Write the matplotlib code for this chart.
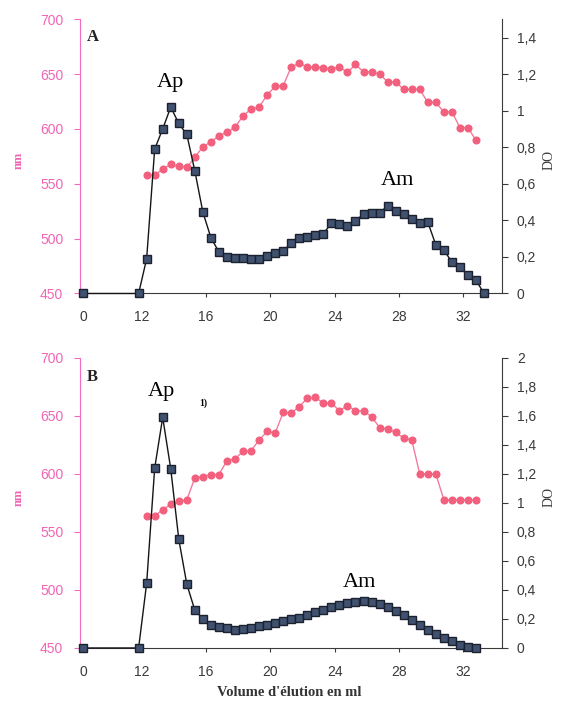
import matplotlib
matplotlib.use("Agg")
import matplotlib.pyplot as plt

# elution volume (ml) and readings, panel A
vol_do_a = [0, 11.8, 12.3, 12.8, 13.3, 13.8, 14.3, 14.8, 15.3, 15.8, 16.3, 16.8, 17.3,
            17.8, 18.3, 18.8, 19.3, 19.8, 20.3, 20.8, 21.3, 21.8, 22.3, 22.8, 23.3,
            23.8, 24.3, 24.8, 25.3, 25.8, 26.3, 26.8, 27.3, 27.8, 28.3, 28.8, 29.3,
            29.8, 30.3, 30.8, 31.3, 31.8, 32.3, 32.8, 33.3]
do_a = [0, 0, 0.19, 0.79, 0.90, 1.02, 0.93, 0.87, 0.67, 0.445, 0.305, 0.227, 0.20,
        0.196, 0.196, 0.19, 0.19, 0.204, 0.224, 0.233, 0.276, 0.305, 0.31, 0.32, 0.327,
        0.385, 0.378, 0.37, 0.396, 0.436, 0.44, 0.44, 0.48, 0.45, 0.436, 0.41, 0.383,
        0.39, 0.266, 0.236, 0.173, 0.145, 0.103, 0.073, 0]
vol_nm_a = [12.3, 12.8, 13.3, 13.8, 14.3, 14.8, 15.3, 15.8, 16.3, 16.8, 17.3, 17.8,
            18.3, 18.8, 19.3, 19.8, 20.3, 20.8, 21.3, 21.8, 22.3, 22.8, 23.3, 23.8,
            24.3, 24.8, 25.3, 25.8, 26.3, 26.8, 27.3, 27.8, 28.3, 28.8, 29.3, 29.8,
            30.3, 30.8, 31.3, 31.8, 32.3, 32.8]
nm_a = [557.6, 557.6, 563.6, 567.6, 566, 565, 574, 584, 588, 594, 597, 601.5,
        612, 618, 620, 631, 639, 639.5, 656.5, 660, 656.5, 656.5, 656, 654.5,
        656.5, 651.5, 658.8, 652, 652, 650, 643, 643, 636, 636, 636, 624.2,
        624.2, 615.5, 615.5, 601.3, 601.3, 589.5]

# panel B
vol_do_b = [0, 11.8, 12.3, 12.8, 13.3, 13.8, 14.3, 14.8, 15.3, 15.8, 16.3, 16.8, 17.3,
            17.8, 18.3, 18.8, 19.3, 19.8, 20.3, 20.8, 21.3, 21.8, 22.3, 22.8, 23.3,
            23.8, 24.3, 24.8, 25.3, 25.8, 26.3, 26.8, 27.3, 27.8, 28.3, 28.8, 29.3,
            29.8, 30.3, 30.8, 31.3, 31.8, 32.3, 32.8]
do_b = [0, 0, 0.445, 1.24, 1.59, 1.235, 0.75, 0.44, 0.26, 0.20, 0.158, 0.142, 0.135,
        0.125, 0.13, 0.14, 0.15, 0.16, 0.172, 0.185, 0.197, 0.21, 0.228, 0.25, 0.265,
        0.28, 0.298, 0.31, 0.318, 0.322, 0.32, 0.305, 0.28, 0.255, 0.225, 0.195, 0.155,
        0.125, 0.095, 0.07, 0.045, 0.02, 0.005, 0]
vol_nm_b = vol_nm_a
nm_b = [563.7, 563.7, 569.2, 573.7, 576.3, 577.7, 596.6, 597.8, 599.5, 599.5, 611.5,
        613, 619.5, 620, 629.3, 636.6, 635.3, 653, 652.5, 658, 665.4, 666, 661, 661,
        654.5, 658.8, 654.5, 654.5, 649.3, 640, 638.7, 635.8, 631, 629.3, 600, 600,
        600, 577.7, 577.7, 577.7, 577.7, 577.7]

x_ticks = [0, 12, 16, 20, 24, 28, 32]
nm_ticks = [450, 500, 550, 600, 650, 700]
do_ticks_a = [0, 0.2, 0.4, 0.6, 0.8, 1.0, 1.2, 1.4]
do_labels_a = ['0', '0,2', '0,4', '0,6', '0,8', '1', '1,2', '1,4']
do_ticks_b = [0, 0.2, 0.4, 0.6, 0.8, 1.0, 1.2, 1.4, 1.6, 1.8, 2.0]
do_labels_b = ['0', '0,2', '0,4', '0,6', '0,8', '1', '1,2', '1,4', '1,6', '1,8', '2']

ZERO_POS = 8.35   # the "0" category sits just inside the axis
SERIF = 'Liberation Serif'
SANS = 'Liberation Sans'
PINK_AX = '#f26cc4'
PINK_TXT = '#f066b4'
PINK_PT = '#f2607e'
PINK_LN = '#f47a9c'
SQ_FACE = '#40526f'
GREY = '#3a3a3a'


def pos(vals):
    return [ZERO_POS if v == 0 else v for v in vals]


def panel(ax, vol_do, do, vol_nm, nm, do_max, do_ticks, do_labels):
    ax.set_xlim(8.15, 34.4)
    ax.set_ylim(450, 700)
    ax.plot(vol_nm, nm, '-o', color=PINK_LN, lw=1.0, ms=4.8,
            mfc=PINK_PT, mec=PINK_PT, clip_on=False)
    ax.set_yticks(nm_ticks)
    ax.set_yticklabels([str(t) for t in nm_ticks], color=PINK_TXT,
                       fontsize=10, family=SANS)
    ax.set_xticks(pos(x_ticks))
    ax.set_xticklabels([str(t) for t in x_ticks], color=GREY,
                       fontsize=10, family=SANS)
    ax.tick_params(axis='y', colors=PINK_AX, labelcolor=PINK_TXT,
                   length=4, pad=8)
    ax.tick_params(axis='x', colors=GREY, labelcolor=GREY, length=3, pad=9)
    ax.spines['top'].set_visible(False)
    ax.spines['right'].set_visible(False)
    ax.spines['left'].set_color(PINK_AX)
    ax.spines['bottom'].set_color(GREY)
    ax.patch.set_visible(False)

    ax2 = ax.twinx()
    ax2.set_ylim(0, do_max)
    ax2.plot(pos(vol_do), do, '-s', color='#151515', lw=1.0, ms=5.7,
             mfc=SQ_FACE, mec='#1c2130', mew=1.0, clip_on=False)
    ax2.set_yticks(do_ticks)
    ax2.set_yticklabels(do_labels, fontsize=10, family=SANS, color=GREY)
    ax2.tick_params(axis='y', colors=GREY, labelcolor=GREY, length=4, pad=7)
    for s in ['top', 'left', 'bottom']:
        ax2.spines[s].set_visible(False)
    ax2.spines['right'].set_color(GREY)
    ax.set_zorder(1)
    ax2.set_zorder(2)
    return ax2


fig = plt.figure(figsize=(5.62, 7.06), dpi=100)
ax_a = fig.add_axes([0.1423, 0.5843, 0.7504, 0.3884])
ax_b = fig.add_axes([0.1423, 0.0822, 0.7504, 0.4108])

a2 = panel(ax_a, vol_do_a, do_a, vol_nm_a, nm_a, 1.5, do_ticks_a, do_labels_a)
b2 = panel(ax_b, vol_do_b, do_b, vol_nm_b, nm_b, 2.0, do_ticks_b, do_labels_b)

# labels inside panels
ax_a.text(0.03, 0.935, 'A', transform=ax_a.transAxes, family=SERIF,
          fontweight='bold', fontsize=12, color='#222222', ha='center', va='center')
ax_b.text(0.03, 0.935, 'B', transform=ax_b.transAxes, family=SERIF,
          fontweight='bold', fontsize=12, color='#222222', ha='center', va='center')
a2.text(13.76, 1.155, 'Ap', family=SERIF, fontsize=16, ha='center', va='center')
a2.text(27.94, 0.62, 'Am', family=SERIF, fontsize=16, ha='center', va='center')
b2.text(13.24, 1.77, 'Ap', family=SERIF, fontsize=16, ha='center', va='center')
b2.text(25.56, 0.45, 'Am', family=SERIF, fontsize=16, ha='center', va='center')
b2.text(15.83, 1.69, '1)', family=SERIF, fontsize=7, fontweight='bold',
        ha='center', va='center')

# axis titles
for yc in [160, 497]:
    fig.text(19 / 562, 1 - yc / 706, 'nm', family=SERIF, fontweight='bold',
             fontsize=9, color=PINK_TXT, rotation=90, ha='center', va='center')
    fig.text(549 / 562, 1 - yc / 706, 'DO', family=SERIF, fontsize=10,
             color=GREY, rotation=90, ha='center', va='center')
fig.text(289 / 562, 1 - 692 / 706, "Volume d'élution en ml", family=SERIF,
         fontweight='bold', fontsize=10.5, color='#333333', ha='center', va='center')

fig.savefig('out.png', dpi=100)
